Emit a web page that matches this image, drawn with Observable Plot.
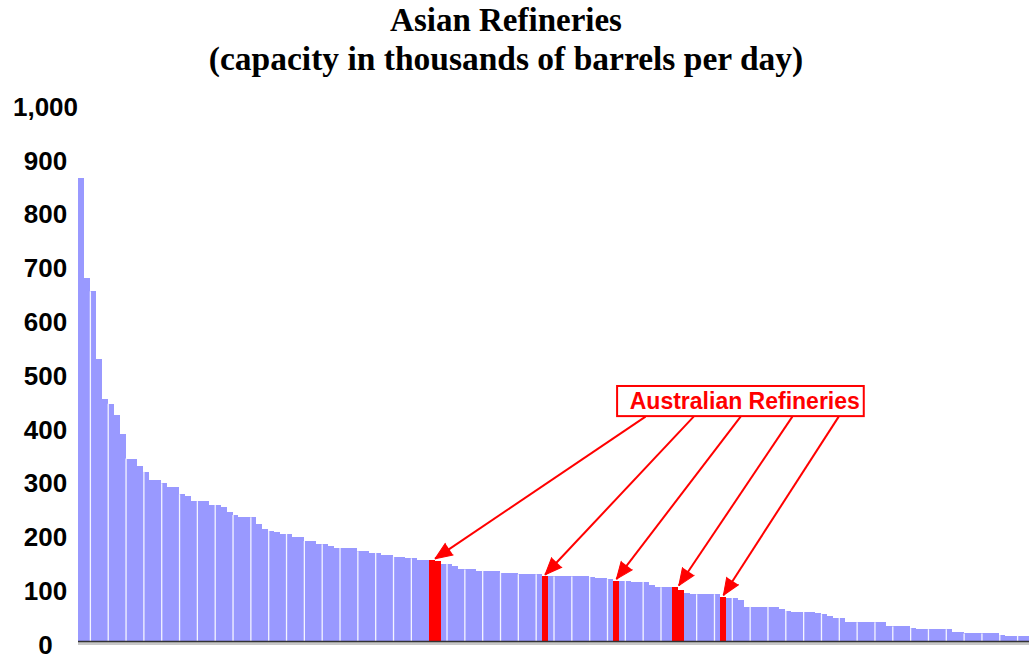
<!DOCTYPE html>
<html>
<head>
<meta charset="utf-8">
<script src="https://cdn.jsdelivr.net/npm/d3@7"></script>
<script src="https://cdn.jsdelivr.net/npm/@observablehq/plot@0.6"></script>
<style>
  html, body { margin: 0; padding: 0; background: #fff; }
  body { width: 1029px; height: 662px; overflow: hidden; position: relative; }
  .head { position: absolute; left: 0; width: 1012px; text-align: center; white-space: nowrap;
          font-family: "Liberation Serif", "Times New Roman", serif; font-weight: bold; color: #000; }
  #t1 { top: 4px; font-size: 33px; line-height: 33px; }
  #t2 { top: 42px; font-size: 33.5px; line-height: 34px; }
  #chart { position: absolute; left: 0; top: 80px; }
</style>
</head>
<body>
<div id="t1" class="head"></div>
<div id="t2" class="head"></div>
<div id="chart"></div>
<script>
// ---- data ----
const title = "Asian Refineries";
const subtitle = "(capacity in thousands of barrels per day)";

// refinery capacities, sorted descending (thousand barrels per day)
const capacity = [
  860, 674, 650, 524, 449, 441, 421, 385, 339, 339,
  326, 315, 299, 299, 293, 286, 286, 273, 269, 260,
  260, 260, 253, 253, 250, 240, 234, 230, 230, 230,
  217, 209, 205, 202, 199, 199, 193, 193, 186, 186,
  180, 180, 176, 173, 173, 173, 173, 167, 167, 164,
  164, 160, 160, 157, 157, 154, 154, 150, 150, 150,
  148, 144, 144, 140, 134, 133, 133, 131, 131, 131,
  131, 127, 127, 127, 124, 124, 124, 124, 120, 120,
  120, 120, 120, 120, 120, 120, 119, 117, 117, 115,
  112, 112, 112, 110, 110, 110, 104, 100, 100, 100,
  100, 95, 90, 87, 87, 87, 87, 87, 82, 80,
  80, 77, 64, 64, 64, 64, 64, 64, 59, 56,
  54, 54, 54, 54, 52, 50, 47, 43, 43, 35,
  35, 35, 35, 35, 35, 35, 27, 27, 27, 27,
  24, 22, 22, 22, 22, 22, 22, 17, 17, 14,
  14, 14, 14, 14, 14, 11, 10, 10, 10, 10
];

// positions (rank) of the Australian refineries, grouped by arrow
const australianGroups = [[59, 60], [78], [90], [100, 101], [108]];

// y axis ticks
const yTicks = [0, 100, 200, 300, 400, 500, 600, 700, 800, 900, 1000];

// category tick interval (every 3 refineries)
const tickEvery = 3;

// annotation label
const labelText = "Australian Refineries";
const labelBox = {x1: 90.7, x2: 132.2, y1: 418, y2: 474};
const labelPos = {x: 112.1, y: 446};
const arrowStarts = [95.4, 103.5, 111.4, 120.1, 127.9];

// ---- build ----
document.getElementById("t1").textContent = title;
document.getElementById("t2").textContent = subtitle;

const australian = new Set(australianGroups.flat());
const bars = capacity.map((v, i) => ({i, v, au: australian.has(i)}));
const seps = d3.range(2, capacity.length, tickEvery).map(i => ({i, v: Math.min(capacity[i - 1], capacity[i])}));

const W = 1029, H = 582;
const mL = 78, mR = 0, mT = 23, mB = 21;
const xs = d3.scaleLinear([0, capacity.length], [mL, W - mR]);
const ys = d3.scaleLinear([0, 1000], [H - mB, mT]);

const arrows = australianGroups.map((g, k) => {
  const tx = (g[0] + g[g.length - 1] + 1) / 2;
  const ty = d3.max(g, i => capacity[i]) + 4;
  const sx = arrowStarts[k], sy = labelBox.y1;
  const dx = xs(tx) - xs(sx), dy = ys(ty) - ys(sy);
  const angle = Math.atan2(dx, -dy) * 180 / Math.PI;
  return {sx, sy, tx, ty, angle};
});

const chart = Plot.plot({
  width: W, height: H,
  marginLeft: mL, marginRight: mR, marginTop: mT, marginBottom: mB,
  style: {fontFamily: "'Liberation Sans', Arial, sans-serif", background: "#fff"},
  x: {type: "linear", domain: [0, capacity.length], axis: null},
  y: {type: "linear", domain: [0, 1000]},
  marks: [
    Plot.rect(bars, {
      x1: d => d.i, x2: d => d.i + 1, y1: 0, y2: d => d.v,
      fill: d => d.au ? "#ff0000" : "#9999ff", shapeRendering: "crispEdges"
    }),
    Plot.ruleX(seps.filter(d => !australian.has(d.i) && !australian.has(d.i - 1)), {
      x: "i", y1: 0, y2: "v", stroke: "#f4f4ff", strokeWidth: 1.3
    }),
    Plot.ruleY([0], {stroke: "#c8c8c8", strokeWidth: 3, dy: 2}),
    Plot.ruleY([0], {stroke: "#333", strokeWidth: 1.5}),
    Plot.axisY({
      ticks: yTicks, tickSize: 0, tickPadding: 33, textAnchor: "middle", dy: 4,
      tickFormat: d3.format(","), label: null,
      fontSize: 26, fontWeight: "bold", fontFamily: "'Liberation Sans', Arial, sans-serif", fill: "#000"
    }),
    Plot.rect([labelBox], {x1: "x1", x2: "x2", y1: "y1", y2: "y2", fill: "#fff", stroke: "#ff0000", strokeWidth: 2}),
    Plot.text([labelPos], {
      x: "x", y: "y", text: () => labelText, fill: "#ff0000",
      fontSize: 23, fontWeight: "bold", fontFamily: "'Liberation Sans', Arial, sans-serif"
    }),
    Plot.link(arrows, {x1: "sx", y1: "sy", x2: "tx", y2: "ty", stroke: "#ff0000", strokeWidth: 2}),
    Plot.vector(arrows, {
      x: "tx", y: "ty", rotate: "angle", length: 17, r: 7, shape: "spike", anchor: "end",
      fill: "#ff0000", stroke: "#ff0000", strokeWidth: 1
    })
  ]
});
document.getElementById("chart").appendChild(chart);
</script>
</body>
</html>
